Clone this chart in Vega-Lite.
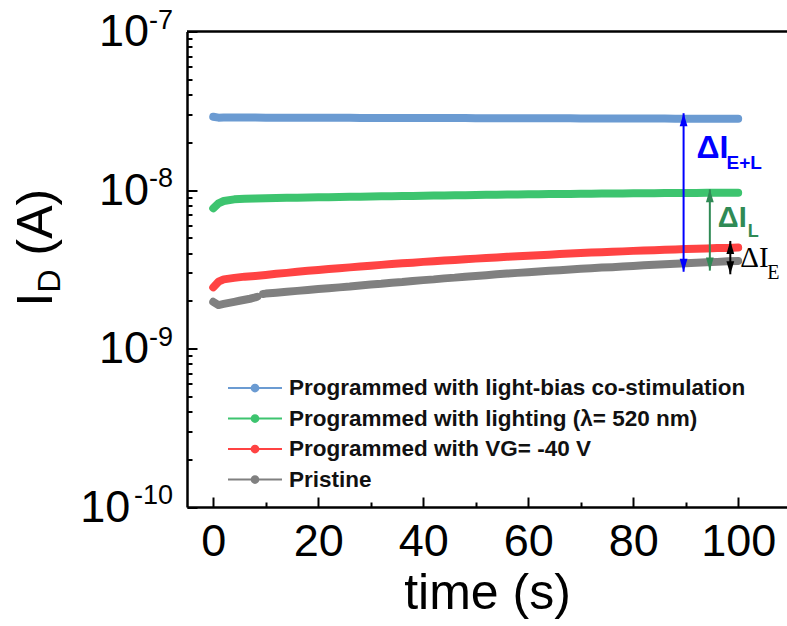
{
  "$schema": "https://vega.github.io/schema/vega-lite/v6.json",
  "width": 600,
  "height": 475.5,
  "autosize": {"type": "none"},
  "padding": {"left": 187, "top": 31.5, "right": 0, "bottom": 119},
  "background": "white",
  "config": {
    "view": {"stroke": null},
    "font": "Liberation Sans",
    "axis": {"grid": false, "ticks": true, "domainColor": "black", "domainWidth": 2.5, "tickColor": "black", "tickWidth": 2, "tickOpacity": 1, "labelColor": "black", "labelFont": "Liberation Sans", "titleFont": "Liberation Sans", "titleColor": "black", "titleFontWeight": "normal"}
  },
  "datasets": {
    "series": [
      {"series": "Programmed with light-bias co-stimulation", "t": 0, "I": 2.90e-8},
      {"series": "Programmed with light-bias co-stimulation", "t": 1, "I": 2.86e-8},
      {"series": "Programmed with light-bias co-stimulation", "t": 2, "I": 2.87e-8},
      {"series": "Programmed with light-bias co-stimulation", "t": 4, "I": 2.87e-8},
      {"series": "Programmed with light-bias co-stimulation", "t": 6, "I": 2.87e-8},
      {"series": "Programmed with light-bias co-stimulation", "t": 8, "I": 2.87e-8},
      {"series": "Programmed with light-bias co-stimulation", "t": 10, "I": 2.86e-8},
      {"series": "Programmed with light-bias co-stimulation", "t": 12, "I": 2.86e-8},
      {"series": "Programmed with light-bias co-stimulation", "t": 14, "I": 2.86e-8},
      {"series": "Programmed with light-bias co-stimulation", "t": 16, "I": 2.86e-8},
      {"series": "Programmed with light-bias co-stimulation", "t": 18, "I": 2.86e-8},
      {"series": "Programmed with light-bias co-stimulation", "t": 20, "I": 2.86e-8},
      {"series": "Programmed with light-bias co-stimulation", "t": 22, "I": 2.86e-8},
      {"series": "Programmed with light-bias co-stimulation", "t": 24, "I": 2.86e-8},
      {"series": "Programmed with light-bias co-stimulation", "t": 26, "I": 2.86e-8},
      {"series": "Programmed with light-bias co-stimulation", "t": 28, "I": 2.85e-8},
      {"series": "Programmed with light-bias co-stimulation", "t": 30, "I": 2.85e-8},
      {"series": "Programmed with light-bias co-stimulation", "t": 32, "I": 2.85e-8},
      {"series": "Programmed with light-bias co-stimulation", "t": 34, "I": 2.85e-8},
      {"series": "Programmed with light-bias co-stimulation", "t": 36, "I": 2.85e-8},
      {"series": "Programmed with light-bias co-stimulation", "t": 38, "I": 2.85e-8},
      {"series": "Programmed with light-bias co-stimulation", "t": 40, "I": 2.85e-8},
      {"series": "Programmed with light-bias co-stimulation", "t": 42, "I": 2.85e-8},
      {"series": "Programmed with light-bias co-stimulation", "t": 44, "I": 2.85e-8},
      {"series": "Programmed with light-bias co-stimulation", "t": 46, "I": 2.85e-8},
      {"series": "Programmed with light-bias co-stimulation", "t": 48, "I": 2.85e-8},
      {"series": "Programmed with light-bias co-stimulation", "t": 50, "I": 2.84e-8},
      {"series": "Programmed with light-bias co-stimulation", "t": 52, "I": 2.84e-8},
      {"series": "Programmed with light-bias co-stimulation", "t": 54, "I": 2.84e-8},
      {"series": "Programmed with light-bias co-stimulation", "t": 56, "I": 2.84e-8},
      {"series": "Programmed with light-bias co-stimulation", "t": 58, "I": 2.84e-8},
      {"series": "Programmed with light-bias co-stimulation", "t": 60, "I": 2.84e-8},
      {"series": "Programmed with light-bias co-stimulation", "t": 62, "I": 2.84e-8},
      {"series": "Programmed with light-bias co-stimulation", "t": 64, "I": 2.84e-8},
      {"series": "Programmed with light-bias co-stimulation", "t": 66, "I": 2.84e-8},
      {"series": "Programmed with light-bias co-stimulation", "t": 68, "I": 2.84e-8},
      {"series": "Programmed with light-bias co-stimulation", "t": 70, "I": 2.83e-8},
      {"series": "Programmed with light-bias co-stimulation", "t": 72, "I": 2.83e-8},
      {"series": "Programmed with light-bias co-stimulation", "t": 74, "I": 2.83e-8},
      {"series": "Programmed with light-bias co-stimulation", "t": 76, "I": 2.83e-8},
      {"series": "Programmed with light-bias co-stimulation", "t": 78, "I": 2.83e-8},
      {"series": "Programmed with light-bias co-stimulation", "t": 80, "I": 2.83e-8},
      {"series": "Programmed with light-bias co-stimulation", "t": 82, "I": 2.83e-8},
      {"series": "Programmed with light-bias co-stimulation", "t": 84, "I": 2.83e-8},
      {"series": "Programmed with light-bias co-stimulation", "t": 86, "I": 2.83e-8},
      {"series": "Programmed with light-bias co-stimulation", "t": 88, "I": 2.82e-8},
      {"series": "Programmed with light-bias co-stimulation", "t": 90, "I": 2.82e-8},
      {"series": "Programmed with light-bias co-stimulation", "t": 92, "I": 2.82e-8},
      {"series": "Programmed with light-bias co-stimulation", "t": 94, "I": 2.82e-8},
      {"series": "Programmed with light-bias co-stimulation", "t": 96, "I": 2.82e-8},
      {"series": "Programmed with light-bias co-stimulation", "t": 98, "I": 2.82e-8},
      {"series": "Programmed with light-bias co-stimulation", "t": 100, "I": 2.82e-8},
      {"series": "Programmed with lighting (λ= 520 nm)", "t": 0, "I": 7.66e-9},
      {"series": "Programmed with lighting (λ= 520 nm)", "t": 1, "I": 8.24e-9},
      {"series": "Programmed with lighting (λ= 520 nm)", "t": 2, "I": 8.52e-9},
      {"series": "Programmed with lighting (λ= 520 nm)", "t": 4, "I": 8.73e-9},
      {"series": "Programmed with lighting (λ= 520 nm)", "t": 6, "I": 8.80e-9},
      {"series": "Programmed with lighting (λ= 520 nm)", "t": 8, "I": 8.84e-9},
      {"series": "Programmed with lighting (λ= 520 nm)", "t": 10, "I": 8.87e-9},
      {"series": "Programmed with lighting (λ= 520 nm)", "t": 12, "I": 8.90e-9},
      {"series": "Programmed with lighting (λ= 520 nm)", "t": 14, "I": 8.92e-9},
      {"series": "Programmed with lighting (λ= 520 nm)", "t": 16, "I": 8.95e-9},
      {"series": "Programmed with lighting (λ= 520 nm)", "t": 18, "I": 8.97e-9},
      {"series": "Programmed with lighting (λ= 520 nm)", "t": 20, "I": 8.99e-9},
      {"series": "Programmed with lighting (λ= 520 nm)", "t": 22, "I": 9.01e-9},
      {"series": "Programmed with lighting (λ= 520 nm)", "t": 24, "I": 9.03e-9},
      {"series": "Programmed with lighting (λ= 520 nm)", "t": 26, "I": 9.05e-9},
      {"series": "Programmed with lighting (λ= 520 nm)", "t": 28, "I": 9.08e-9},
      {"series": "Programmed with lighting (λ= 520 nm)", "t": 30, "I": 9.10e-9},
      {"series": "Programmed with lighting (λ= 520 nm)", "t": 32, "I": 9.12e-9},
      {"series": "Programmed with lighting (λ= 520 nm)", "t": 34, "I": 9.14e-9},
      {"series": "Programmed with lighting (λ= 520 nm)", "t": 36, "I": 9.16e-9},
      {"series": "Programmed with lighting (λ= 520 nm)", "t": 38, "I": 9.18e-9},
      {"series": "Programmed with lighting (λ= 520 nm)", "t": 40, "I": 9.20e-9},
      {"series": "Programmed with lighting (λ= 520 nm)", "t": 42, "I": 9.22e-9},
      {"series": "Programmed with lighting (λ= 520 nm)", "t": 44, "I": 9.24e-9},
      {"series": "Programmed with lighting (λ= 520 nm)", "t": 46, "I": 9.26e-9},
      {"series": "Programmed with lighting (λ= 520 nm)", "t": 48, "I": 9.28e-9},
      {"series": "Programmed with lighting (λ= 520 nm)", "t": 50, "I": 9.30e-9},
      {"series": "Programmed with lighting (λ= 520 nm)", "t": 52, "I": 9.32e-9},
      {"series": "Programmed with lighting (λ= 520 nm)", "t": 54, "I": 9.34e-9},
      {"series": "Programmed with lighting (λ= 520 nm)", "t": 56, "I": 9.36e-9},
      {"series": "Programmed with lighting (λ= 520 nm)", "t": 58, "I": 9.37e-9},
      {"series": "Programmed with lighting (λ= 520 nm)", "t": 60, "I": 9.39e-9},
      {"series": "Programmed with lighting (λ= 520 nm)", "t": 62, "I": 9.40e-9},
      {"series": "Programmed with lighting (λ= 520 nm)", "t": 64, "I": 9.42e-9},
      {"series": "Programmed with lighting (λ= 520 nm)", "t": 66, "I": 9.44e-9},
      {"series": "Programmed with lighting (λ= 520 nm)", "t": 68, "I": 9.45e-9},
      {"series": "Programmed with lighting (λ= 520 nm)", "t": 70, "I": 9.47e-9},
      {"series": "Programmed with lighting (λ= 520 nm)", "t": 72, "I": 9.48e-9},
      {"series": "Programmed with lighting (λ= 520 nm)", "t": 74, "I": 9.49e-9},
      {"series": "Programmed with lighting (λ= 520 nm)", "t": 76, "I": 9.51e-9},
      {"series": "Programmed with lighting (λ= 520 nm)", "t": 78, "I": 9.52e-9},
      {"series": "Programmed with lighting (λ= 520 nm)", "t": 80, "I": 9.53e-9},
      {"series": "Programmed with lighting (λ= 520 nm)", "t": 82, "I": 9.54e-9},
      {"series": "Programmed with lighting (λ= 520 nm)", "t": 84, "I": 9.55e-9},
      {"series": "Programmed with lighting (λ= 520 nm)", "t": 86, "I": 9.56e-9},
      {"series": "Programmed with lighting (λ= 520 nm)", "t": 88, "I": 9.57e-9},
      {"series": "Programmed with lighting (λ= 520 nm)", "t": 90, "I": 9.58e-9},
      {"series": "Programmed with lighting (λ= 520 nm)", "t": 92, "I": 9.59e-9},
      {"series": "Programmed with lighting (λ= 520 nm)", "t": 94, "I": 9.60e-9},
      {"series": "Programmed with lighting (λ= 520 nm)", "t": 96, "I": 9.61e-9},
      {"series": "Programmed with lighting (λ= 520 nm)", "t": 98, "I": 9.61e-9},
      {"series": "Programmed with lighting (λ= 520 nm)", "t": 100, "I": 9.62e-9},
      {"series": "Programmed with VG= -40 V", "t": 0, "I": 2.43e-9},
      {"series": "Programmed with VG= -40 V", "t": 1, "I": 2.64e-9},
      {"series": "Programmed with VG= -40 V", "t": 2, "I": 2.73e-9},
      {"series": "Programmed with VG= -40 V", "t": 4, "I": 2.79e-9},
      {"series": "Programmed with VG= -40 V", "t": 6, "I": 2.84e-9},
      {"series": "Programmed with VG= -40 V", "t": 8, "I": 2.87e-9},
      {"series": "Programmed with VG= -40 V", "t": 10, "I": 2.91e-9},
      {"series": "Programmed with VG= -40 V", "t": 12, "I": 2.96e-9},
      {"series": "Programmed with VG= -40 V", "t": 14, "I": 3.00e-9},
      {"series": "Programmed with VG= -40 V", "t": 16, "I": 3.05e-9},
      {"series": "Programmed with VG= -40 V", "t": 18, "I": 3.09e-9},
      {"series": "Programmed with VG= -40 V", "t": 20, "I": 3.13e-9},
      {"series": "Programmed with VG= -40 V", "t": 22, "I": 3.17e-9},
      {"series": "Programmed with VG= -40 V", "t": 24, "I": 3.21e-9},
      {"series": "Programmed with VG= -40 V", "t": 26, "I": 3.25e-9},
      {"series": "Programmed with VG= -40 V", "t": 28, "I": 3.29e-9},
      {"series": "Programmed with VG= -40 V", "t": 30, "I": 3.33e-9},
      {"series": "Programmed with VG= -40 V", "t": 32, "I": 3.37e-9},
      {"series": "Programmed with VG= -40 V", "t": 34, "I": 3.41e-9},
      {"series": "Programmed with VG= -40 V", "t": 36, "I": 3.45e-9},
      {"series": "Programmed with VG= -40 V", "t": 38, "I": 3.48e-9},
      {"series": "Programmed with VG= -40 V", "t": 40, "I": 3.52e-9},
      {"series": "Programmed with VG= -40 V", "t": 42, "I": 3.55e-9},
      {"series": "Programmed with VG= -40 V", "t": 44, "I": 3.59e-9},
      {"series": "Programmed with VG= -40 V", "t": 46, "I": 3.62e-9},
      {"series": "Programmed with VG= -40 V", "t": 48, "I": 3.66e-9},
      {"series": "Programmed with VG= -40 V", "t": 50, "I": 3.69e-9},
      {"series": "Programmed with VG= -40 V", "t": 52, "I": 3.72e-9},
      {"series": "Programmed with VG= -40 V", "t": 54, "I": 3.75e-9},
      {"series": "Programmed with VG= -40 V", "t": 56, "I": 3.79e-9},
      {"series": "Programmed with VG= -40 V", "t": 58, "I": 3.82e-9},
      {"series": "Programmed with VG= -40 V", "t": 60, "I": 3.85e-9},
      {"series": "Programmed with VG= -40 V", "t": 62, "I": 3.88e-9},
      {"series": "Programmed with VG= -40 V", "t": 64, "I": 3.91e-9},
      {"series": "Programmed with VG= -40 V", "t": 66, "I": 3.94e-9},
      {"series": "Programmed with VG= -40 V", "t": 68, "I": 3.97e-9},
      {"series": "Programmed with VG= -40 V", "t": 70, "I": 4.00e-9},
      {"series": "Programmed with VG= -40 V", "t": 72, "I": 4.03e-9},
      {"series": "Programmed with VG= -40 V", "t": 74, "I": 4.05e-9},
      {"series": "Programmed with VG= -40 V", "t": 76, "I": 4.08e-9},
      {"series": "Programmed with VG= -40 V", "t": 78, "I": 4.10e-9},
      {"series": "Programmed with VG= -40 V", "t": 80, "I": 4.13e-9},
      {"series": "Programmed with VG= -40 V", "t": 82, "I": 4.15e-9},
      {"series": "Programmed with VG= -40 V", "t": 84, "I": 4.17e-9},
      {"series": "Programmed with VG= -40 V", "t": 86, "I": 4.20e-9},
      {"series": "Programmed with VG= -40 V", "t": 88, "I": 4.22e-9},
      {"series": "Programmed with VG= -40 V", "t": 90, "I": 4.24e-9},
      {"series": "Programmed with VG= -40 V", "t": 92, "I": 4.26e-9},
      {"series": "Programmed with VG= -40 V", "t": 94, "I": 4.28e-9},
      {"series": "Programmed with VG= -40 V", "t": 96, "I": 4.30e-9},
      {"series": "Programmed with VG= -40 V", "t": 98, "I": 4.31e-9},
      {"series": "Programmed with VG= -40 V", "t": 100, "I": 4.33e-9},
      {"series": "Pristine", "seg": "a", "t": 0, "I": 1.97e-9},
      {"series": "Pristine", "seg": "a", "t": 1, "I": 1.88e-9},
      {"series": "Pristine", "seg": "a", "t": 2, "I": 1.91e-9},
      {"series": "Pristine", "seg": "a", "t": 3, "I": 1.94e-9},
      {"series": "Pristine", "seg": "a", "t": 4, "I": 1.97e-9},
      {"series": "Pristine", "seg": "a", "t": 5, "I": 2.00e-9},
      {"series": "Pristine", "seg": "a", "t": 6, "I": 2.03e-9},
      {"series": "Pristine", "seg": "a", "t": 7, "I": 2.06e-9},
      {"series": "Pristine", "seg": "a", "t": 8, "I": 2.10e-9},
      {"series": "Pristine", "seg": "a", "t": 8.4, "I": 2.12e-9},
      {"series": "Pristine", "seg": "b", "t": 9.5, "I": 2.21e-9},
      {"series": "Pristine", "seg": "b", "t": 10, "I": 2.22e-9},
      {"series": "Pristine", "seg": "b", "t": 12, "I": 2.25e-9},
      {"series": "Pristine", "seg": "b", "t": 14, "I": 2.28e-9},
      {"series": "Pristine", "seg": "b", "t": 16, "I": 2.31e-9},
      {"series": "Pristine", "seg": "b", "t": 18, "I": 2.34e-9},
      {"series": "Pristine", "seg": "b", "t": 20, "I": 2.37e-9},
      {"series": "Pristine", "seg": "b", "t": 22, "I": 2.40e-9},
      {"series": "Pristine", "seg": "b", "t": 24, "I": 2.43e-9},
      {"series": "Pristine", "seg": "b", "t": 26, "I": 2.46e-9},
      {"series": "Pristine", "seg": "b", "t": 28, "I": 2.50e-9},
      {"series": "Pristine", "seg": "b", "t": 30, "I": 2.53e-9},
      {"series": "Pristine", "seg": "b", "t": 32, "I": 2.56e-9},
      {"series": "Pristine", "seg": "b", "t": 34, "I": 2.60e-9},
      {"series": "Pristine", "seg": "b", "t": 36, "I": 2.63e-9},
      {"series": "Pristine", "seg": "b", "t": 38, "I": 2.67e-9},
      {"series": "Pristine", "seg": "b", "t": 40, "I": 2.70e-9},
      {"series": "Pristine", "seg": "b", "t": 42, "I": 2.73e-9},
      {"series": "Pristine", "seg": "b", "t": 44, "I": 2.77e-9},
      {"series": "Pristine", "seg": "b", "t": 46, "I": 2.80e-9},
      {"series": "Pristine", "seg": "b", "t": 48, "I": 2.84e-9},
      {"series": "Pristine", "seg": "b", "t": 50, "I": 2.87e-9},
      {"series": "Pristine", "seg": "b", "t": 52, "I": 2.90e-9},
      {"series": "Pristine", "seg": "b", "t": 54, "I": 2.94e-9},
      {"series": "Pristine", "seg": "b", "t": 56, "I": 2.97e-9},
      {"series": "Pristine", "seg": "b", "t": 58, "I": 3.00e-9},
      {"series": "Pristine", "seg": "b", "t": 60, "I": 3.03e-9},
      {"series": "Pristine", "seg": "b", "t": 62, "I": 3.06e-9},
      {"series": "Pristine", "seg": "b", "t": 64, "I": 3.09e-9},
      {"series": "Pristine", "seg": "b", "t": 66, "I": 3.12e-9},
      {"series": "Pristine", "seg": "b", "t": 68, "I": 3.15e-9},
      {"series": "Pristine", "seg": "b", "t": 70, "I": 3.18e-9},
      {"series": "Pristine", "seg": "b", "t": 72, "I": 3.21e-9},
      {"series": "Pristine", "seg": "b", "t": 74, "I": 3.24e-9},
      {"series": "Pristine", "seg": "b", "t": 76, "I": 3.26e-9},
      {"series": "Pristine", "seg": "b", "t": 78, "I": 3.29e-9},
      {"series": "Pristine", "seg": "b", "t": 80, "I": 3.32e-9},
      {"series": "Pristine", "seg": "b", "t": 82, "I": 3.35e-9},
      {"series": "Pristine", "seg": "b", "t": 84, "I": 3.37e-9},
      {"series": "Pristine", "seg": "b", "t": 86, "I": 3.40e-9},
      {"series": "Pristine", "seg": "b", "t": 88, "I": 3.42e-9},
      {"series": "Pristine", "seg": "b", "t": 90, "I": 3.45e-9},
      {"series": "Pristine", "seg": "b", "t": 92, "I": 3.47e-9},
      {"series": "Pristine", "seg": "b", "t": 94, "I": 3.50e-9},
      {"series": "Pristine", "seg": "b", "t": 96, "I": 3.52e-9},
      {"series": "Pristine", "seg": "b", "t": 98, "I": 3.55e-9},
      {"series": "Pristine", "seg": "b", "t": 100, "I": 3.57e-9}
    ],
    "deltas": [
      {"delta": "E+L", "t": 89.6, "upper": 3.05e-8, "lower": 3.05e-9},
      {"delta": "L", "t": 94.6, "upper": 1.01e-8, "lower": 3.1e-9},
      {"delta": "E", "t": 98.5, "upper": 4.77e-9, "lower": 2.94e-9}
    ],
    "decades": [
      {"I": 1e-7, "exp": "-7"},
      {"I": 1e-8, "exp": "-8"},
      {"I": 1e-9, "exp": "-9"},
      {"I": 1e-10, "exp": "-10"}
    ]
  },
  "layer": [
    {
      "data": {"name": "series"},
      "mark": {"type": "line", "strokeWidth": 8, "strokeCap": "round", "strokeJoin": "round"},
      "encoding": {
        "x": {
          "field": "t", "type": "quantitative",
          "scale": {"domain": [-5, 109.3], "nice": false, "zero": false},
          "axis": {
            "values": [0, 10, 20, 30, 40, 50, 60, 70, 80, 90, 100],
            "labelExpr": "datum.value % 20 === 0 ? datum.label : ''",
            "labelFontSize": 45,
            "labelPadding": 22,
            "labelFlush": false,
            "labelOverlap": false,
            "tickSize": {"condition": {"test": "datum.value % 20 === 0", "value": -10}, "value": -5},
            "title": "time (s)",
            "titleFontSize": 50,
            "titleBaseline": "alphabetic",
            "titleY": 101
          }
        },
        "y": {
          "field": "I", "type": "quantitative",
          "scale": {"type": "log", "domain": [1e-10, 1e-7], "nice": false},
          "axis": {
            "values": [1e-10, 2e-10, 3e-10, 4e-10, 5e-10, 6e-10, 7e-10, 8e-10, 9e-10, 1e-9, 2e-9, 3e-9, 4e-9, 5e-9, 6e-9, 7e-9, 8e-9, 9e-9, 1e-8, 2e-8, 3e-8, 4e-8, 5e-8, 6e-8, 7e-8, 8e-8, 9e-8, 1e-7],
            "labelExpr": "(datum.value == 1e-10 || datum.value == 1e-7 || datum.value == 1e-8 || datum.value == 1e-9) ? '10' : ''",
            "labelFontSize": 45,
            "labelPadding": {"condition": {"test": "datum.value == 1e-10", "value": 67.2}, "value": 48.5},
            "labelFlush": false,
            "labelOverlap": false,
            "labelBaseline": "middle",
            "tickSize": {"condition": {"test": "datum.value == 1e-7 || datum.value == 1e-8 || datum.value == 1e-9 || datum.value == 1e-10", "value": -10}, "value": -5},
            "title": null
          }
        },
        "color": {
          "field": "series", "type": "nominal",
          "scale": {
            "domain": ["Programmed with light-bias co-stimulation", "Programmed with lighting (λ= 520 nm)", "Programmed with VG= -40 V", "Pristine"],
            "range": ["#6B9BD2", "#3DC46F", "#FF4343", "#808080"]
          },
          "legend": {
            "title": null,
            "orient": "none",
            "legendX": 53.5,
            "legendY": 342,
            "symbolType": "M-2,0L2,0M-0.25,0A0.25,0.25,0,1,1,0.25,0A0.25,0.25,0,1,1,-0.25,0Z",
            "symbolSize": 729,
            "symbolStrokeWidth": 2,
            "labelFontSize": 22.5,
            "labelFontWeight": "bold",
            "labelFont": "Liberation Sans",
            "labelColor": "#111111",
            "labelLimit": 700,
            "labelOffset": 19.5,
            "rowPadding": 4.5,
            "padding": 0,
            "encode": {"symbols": {"update": {"fill": {"scale": "color", "field": "value"}, "stroke": {"scale": "color", "field": "value"}}}}
          }
        },
        "detail": {"field": "seg"}
      }
    },
    {
      "data": {"values": [{}]},
      "mark": {"type": "rule", "color": "black", "strokeWidth": 2.5},
      "encoding": {"y": {"datum": 1e-7}}
    },
    {
      "data": {"name": "decades"},
      "mark": {"type": "text", "font": "Liberation Sans", "fontSize": 27, "color": "black", "align": "right", "baseline": "alphabetic", "dx": -14, "dy": -3},
      "encoding": {
        "x": {"datum": -5},
        "y": {"field": "I", "type": "quantitative"},
        "text": {"field": "exp", "type": "nominal"}
      }
    },
    {
      "data": {"name": "deltas"},
      "mark": {"type": "rule", "strokeWidth": 2},
      "encoding": {
        "x": {"field": "t", "type": "quantitative"},
        "y": {"field": "upper", "type": "quantitative"},
        "y2": {"field": "lower"},
        "stroke": {"field": "delta", "type": "nominal", "scale": {"domain": ["E+L", "L", "E"], "range": ["#0000FF", "#2F8A55", "#000000"]}, "legend": null}
      }
    },
    {
      "data": {"name": "deltas"},
      "mark": {"type": "point", "filled": true, "shape": "M0,0L0.3,1L-0.3,1Z", "size": 676, "opacity": 1, "strokeWidth": 0},
      "encoding": {
        "x": {"field": "t", "type": "quantitative"},
        "y": {"field": "upper", "type": "quantitative"},
        "fill": {"field": "delta", "type": "nominal", "scale": {"domain": ["E+L", "L", "E"], "range": ["#0000FF", "#2F8A55", "#000000"]}, "legend": null}
      }
    },
    {
      "data": {"name": "deltas"},
      "mark": {"type": "point", "filled": true, "shape": "M0,0L0.3,-1L-0.3,-1Z", "size": 676, "opacity": 1, "strokeWidth": 0},
      "encoding": {
        "x": {"field": "t", "type": "quantitative"},
        "y": {"field": "lower", "type": "quantitative"},
        "fill": {"field": "delta", "type": "nominal", "legend": null}
      }
    },
    {
      "data": {"name": "deltas"},
      "transform": [{"filter": "datum.delta === 'E+L'"}],
      "mark": {"type": "text", "text": "ΔI", "font": "Liberation Sans", "fontWeight": "bold", "fontSize": 32, "color": "#0000FF", "align": "left", "baseline": "alphabetic", "dx": 13, "dy": 45},
      "encoding": {"x": {"field": "t", "type": "quantitative"}, "y": {"field": "upper", "type": "quantitative"}}
    },
    {
      "data": {"name": "deltas"},
      "transform": [{"filter": "datum.delta === 'E+L'"}],
      "mark": {"type": "text", "text": "E+L", "font": "Liberation Sans", "fontWeight": "bold", "fontSize": 19, "color": "#0000FF", "align": "left", "baseline": "alphabetic", "dx": 43, "dy": 56},
      "encoding": {"x": {"field": "t", "type": "quantitative"}, "y": {"field": "upper", "type": "quantitative"}}
    },
    {
      "data": {"name": "deltas"},
      "transform": [{"filter": "datum.delta === 'L'"}],
      "mark": {"type": "text", "text": "ΔI", "font": "Liberation Sans", "fontWeight": "bold", "fontSize": 29, "color": "#2F8A55", "align": "left", "baseline": "alphabetic", "dx": 8, "dy": 38},
      "encoding": {"x": {"field": "t", "type": "quantitative"}, "y": {"field": "upper", "type": "quantitative"}}
    },
    {
      "data": {"name": "deltas"},
      "transform": [{"filter": "datum.delta === 'L'"}],
      "mark": {"type": "text", "text": "L", "font": "Liberation Sans", "fontWeight": "bold", "fontSize": 18, "color": "#2F8A55", "align": "left", "baseline": "alphabetic", "dx": 38, "dy": 48},
      "encoding": {"x": {"field": "t", "type": "quantitative"}, "y": {"field": "upper", "type": "quantitative"}}
    },
    {
      "data": {"name": "deltas"},
      "transform": [{"filter": "datum.delta === 'E'"}],
      "mark": {"type": "text", "text": "ΔI", "font": "Liberation Serif", "fontSize": 29, "color": "#000000", "align": "left", "baseline": "alphabetic", "dx": 10, "dy": 26},
      "encoding": {"x": {"field": "t", "type": "quantitative"}, "y": {"field": "upper", "type": "quantitative"}}
    },
    {
      "data": {"name": "deltas"},
      "transform": [{"filter": "datum.delta === 'E'"}],
      "mark": {"type": "text", "text": "E", "font": "Liberation Serif", "fontSize": 20, "color": "#000000", "align": "left", "baseline": "alphabetic", "dx": 37, "dy": 38},
      "encoding": {"x": {"field": "t", "type": "quantitative"}, "y": {"field": "upper", "type": "quantitative"}}
    },
    {
      "data": {"values": [{}]},
      "mark": {"type": "text", "text": "I", "font": "Liberation Sans", "fontSize": 50, "color": "black", "angle": 270, "align": "left", "baseline": "alphabetic", "dx": 42, "dy": -135.5},
      "encoding": {"x": {"datum": -5}, "y": {"datum": 1e-9}}
    },
    {
      "data": {"values": [{}]},
      "mark": {"type": "text", "text": "D", "font": "Liberation Sans", "fontSize": 32, "color": "black", "angle": 270, "align": "left", "baseline": "alphabetic", "dx": 56, "dy": -127},
      "encoding": {"x": {"datum": -5}, "y": {"datum": 1e-9}}
    },
    {
      "data": {"values": [{}]},
      "mark": {"type": "text", "text": "(A)", "font": "Liberation Sans", "fontSize": 50, "color": "black", "angle": 270, "align": "left", "baseline": "alphabetic", "dx": 93, "dy": -135.5},
      "encoding": {"x": {"datum": -5}, "y": {"datum": 1e-9}}
    }
  ]
}
